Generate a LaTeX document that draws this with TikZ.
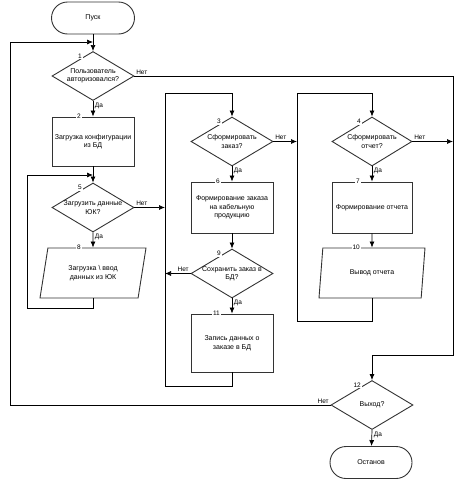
\documentclass[tikz,border=0pt]{standalone}
\usepackage{fontspec}
\setmainfont{Liberation Sans}
\usetikzlibrary{shapes.geometric,arrows.meta}

\tikzset{
  base/.style={draw=black!80,line width=0.9pt,inner sep=1pt,align=center,font=\fontsize{7}{8.5}\selectfont},
  term/.style={base,rectangle,rounded corners=16pt,minimum width=83pt,minimum height=32pt},
  proc/.style={base,rectangle,minimum width=82pt},
  dec/.style={base,diamond,inner sep=0pt,minimum width=82pt,minimum height=49pt},
  io/.style={base,trapezium,trapezium left angle=65,trapezium right angle=115,
    trapezium stretches body,minimum width=106pt,minimum height=50pt},
  dtxt/.style={align=center,inner sep=0pt,font=\fontsize{7}{8.5}\selectfont},
  num/.style={fill=white,inner sep=1pt,anchor=east,font=\fontsize{6.5}{7}\selectfont},
  lbl/.style={inner sep=1.5pt,font=\fontsize{6.5}{7}\selectfont},
  conn/.style={line width=0.7pt}
}

\begin{document}
\begin{tikzpicture}[x=1pt,y=-1pt,>={Latex[length=6pt,width=5pt]}]
  \useasboundingbox (0,0) rectangle (458,482);
  % left column
  \node[term] (start) at (93,18) {Пуск};
  \node[dec,label={[dtxt]center:Пользователь\\авторизовался?}] (d1) at (93,76) {};
  \node[proc,minimum height=49pt] (b2) at (93,141.5) {Загрузка конфигурации\\из БД};
  \node[dec,label={[dtxt]center:Загрузить данные\\ЮК?}] (d5) at (93,207.5) {};
  \node[io] (p8) at (93,273) {Загрузка \textbackslash{} ввод\\данных из ЮК};
  % middle column
  \node[dec,label={[dtxt]center:Сформировать\\заказ?}] (d3) at (232,141.5) {};
  \node[proc,minimum height=51pt] (b6) at (232,207.5) {Формирование заказа\\на кабельную\\продукцию};
  \node[dec,label={[dtxt]center:Сохранить заказ в\\БД?}] (d9) at (232,273.5) {};
  \node[proc,minimum height=58pt] (b11) at (232,343) {Запись данных о\\заказе в БД};
  % right column
  \node[dec,minimum width=80pt,label={[dtxt]center:Сформировать\\отчет?}] (d4) at (372,141.5) {};
  \node[proc,minimum width=80pt,minimum height=51pt] (b7) at (372,207.5) {Формирование отчета};
  \node[io] (p10) at (372,273) {Вывод отчета};
  \node[dec,label={[dtxt]center:Выход?}] (d12) at (372,405) {};
  \node[term,minimum width=82pt] (stop) at (371,462.5) {Останов};

  % step numbers
  \foreach \n/\t in {d1/1,d5/5,d3/3,d9/9,d4/4,d12/12}
    \node[num] (n\t) at ([xshift=-10pt,yshift=-5pt]\n.north) {\t};
  \foreach \n/\t in {b2/2,p8/8,b6/6,b11/11,b7/7,p10/10}
    \node[num] (n\t) at ([xshift=-11pt]\n.north) {\t};

  % junctions
  \coordinate (j1) at (93,42);
  \coordinate (j5) at (93,175);
  \coordinate (jm) at (232,93);
  \coordinate (jr) at (372,93);
  \coordinate (j12) at (372,355);
  \coordinate (c1) at (10,42);
  \coordinate (c2) at (453,355);
  \coordinate (c3) at (27,308);
  \coordinate (m5) at (165,207.5);
  \coordinate (m9) at (165,273.5);
  \coordinate (ml) at (165,386);
  \coordinate (mt) at (165,93);
  \coordinate (r3) at (297,141.5);
  \coordinate (rl) at (297,321);
  \coordinate (rt) at (297,93);
  \coordinate (e4) at (453,141.5);

  % connectors
  \draw[conn,->] (start) -- (d1);
  \draw[conn,->] (d12.west) node[lbl,above left] {Нет} -| (c1) -- (j1);
  \draw[conn,->] (d1.east) node[lbl,above right] {Нет} -| (c2) -- (j12) -- (d12);
  \draw[conn,->] (d1.south) node[lbl,below right] {Да} -- (b2);
  \draw[conn,->] (b2) -- (d5);
  \draw[conn,->] (d5.south) node[lbl,below right] {Да} -- (p8);
  \draw[conn,->] (p8.south) |- (c3) |- (j5);
  \draw[conn,->] (d5.east) node[lbl,above right] {Нет} -- (m5);

  \draw[conn,->] (b11.south) |- (ml) -- (mt) -- (jm) -- (d3);
  \draw[conn,->] (d3.east) node[lbl,above right] {Нет} -- (r3);
  \draw[conn,->] (d3.south) node[lbl,below right] {Да} -- (b6);
  \draw[conn,->] (b6) -- (d9);
  \draw[conn,->] (d9.west) node[lbl,above left] {Нет} -- (m9);
  \draw[conn,->] (d9.south) node[lbl,below right] {Да} -- (b11);

  \draw[conn,->] (p10.south) |- (rl) -- (rt) -- (jr) -- (d4);
  \draw[conn,->] (d4.east) node[lbl,above right] {Нет} -- (e4);
  \draw[conn,->] (d4.south) node[lbl,below right] {Да} -- (b7);
  \draw[conn,->] (b7) -- (p10);
  \draw[conn,->] (d12.south) node[lbl,below right] {Да} -- (stop);
\end{tikzpicture}
\end{document}
